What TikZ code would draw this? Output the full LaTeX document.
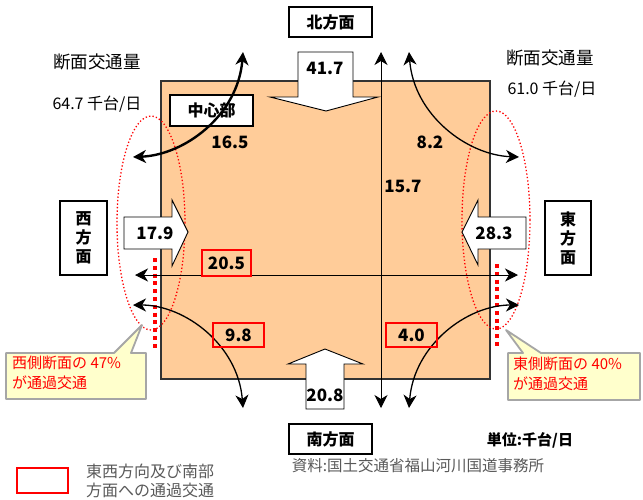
\documentclass[tikz,border=0pt]{standalone}
\usepackage{fontspec}
\setmainfont{Noto Sans CJK JP}
\usetikzlibrary{arrows.meta}
\definecolor{peach}{HTML}{FFCC99}
\definecolor{callfill}{HTML}{FFFFCC}
\definecolor{callline}{HTML}{A6A6A6}
\definecolor{txtgray}{HTML}{595959}
\begin{document}
\begin{tikzpicture}[x=1pt,y=-1pt,
  tip/.tip={Stealth[length=13pt,width=13pt,inset=4pt]},
  conn/.style={line width=1.3pt,tip-tip},
  dirbox/.style={draw=black,line width=1.2pt,fill=white,inner sep=0pt,
    font=\fontsize{16}{20}\selectfont\bfseries},
  num/.style={inner sep=0pt,font=\fontsize{17}{18}\selectfont\bfseries},
  redbox/.style={draw=red,line width=2.3pt,inner sep=0pt},
  blockarrow/.style={draw=black,line width=0.9pt,fill=white},
  calloutshape/.style={draw=callline,line width=1.8pt,fill=callfill,line join=round},
  calltext/.style={inner sep=0pt,anchor=west,align=left,text=red,
    font=\fontsize{15}{20}\selectfont},
  plain/.style={inner sep=0pt,font=\fontsize{16}{20}\selectfont},
  reddots/.style={draw=red,line width=3.8pt,dash pattern=on 4pt off 3.8pt},
  redellipse/.style={draw=red,line width=1.3pt,dash pattern=on 1.3pt off 2.2pt}
]
\useasboundingbox (0,0) rectangle (643,499);

% main area
\draw[fill=peach,draw=black!80,line width=1.5pt] (161,81) rectangle (490,379);

% dotted ellipses
\draw[redellipse] (151,223) ellipse [x radius=34pt,y radius=107pt];
\draw[redellipse] (496,220) ellipse [x radius=34pt,y radius=109pt];

% thick red dotted section lines
\draw[reddots] (155,258) -- (155,351);
\draw[reddots] (497,264) -- (497,348);

% coordinates of free ends
\coordinate (vN) at (381,52);
\coordinate (vS) at (381,408);
\coordinate (hW) at (135,275);
\coordinate (hE) at (518,275);
\coordinate (nwU) at (243,52);
\coordinate (nwL) at (133,157);
\coordinate (neU) at (409,52);
\coordinate (neR) at (519,157);
\coordinate (swD) at (243,408);
\coordinate (swL) at (133,305);
\coordinate (seD) at (409,408);
\coordinate (seR) at (519,305);

% through lines
\draw[conn,line width=1pt] (vN) -- (vS);
\draw[conn,line width=1pt] (hW) -- (hE);

% block arrows
\draw[blockarrow] (298,52) -- (353,52) -- (353,97) -- (378,97) -- (326,111) -- (270,97) -- (298,97) -- cycle;
\draw[blockarrow] (306,409) -- (344,409) -- (344,364) -- (363,364) -- (325,349) -- (288,364) -- (306,364) -- cycle;
\draw[blockarrow] (124,217) -- (172,217) -- (172,200) -- (188,232) -- (172,266) -- (172,249) -- (124,249) -- cycle;
\draw[blockarrow] (526,217) -- (478,217) -- (478,200) -- (462,232) -- (478,265) -- (478,249) -- (526,249) -- cycle;

% centre box
\node[dirbox,minimum width=83pt,minimum height=31pt] (ctr) at (211.5,110.5) {中心部};

% curved connectors
\draw[conn,line width=2.4pt] (nwL) .. controls (185,155) and (238,115) .. (nwU);
\draw[conn] (neR) .. controls (467,155) and (414,115) .. (neU);
\draw[conn] (swL) .. controls (185,305) and (238,345) .. (swD);
\draw[conn] (seR) .. controls (467,305) and (414,345) .. (seD);

% direction boxes
\node[dirbox,minimum width=83pt,minimum height=30pt] (north) at (330.5,22) {北方面};
\node[dirbox,minimum width=83pt,minimum height=30pt] (south) at (330.5,439) {南方面};
\node[dirbox,minimum width=47pt,minimum height=74pt,align=center] (west) at (83.5,238)
  {西\\[-1pt]方\\[-1pt]面};
\node[dirbox,minimum width=46pt,minimum height=74pt,align=center] (east) at (568,238)
  {東\\[-1pt]方\\[-1pt]面};

% numbers
\node[num] (n417) at (325,68) {41.7};
\node[num] (n208) at (325,395) {20.8};
\node[num] (n179) at (155,233) {17.9};
\node[num] (n283) at (494,233) {28.3};
\node[num] (n165) at (230,142) {16.5};
\node[num] (n82) at (430,142) {8.2};
\node[num] (n157) at (403,186) {15.7};

% red boxes
\draw[redbox] (202,250) rectangle (251,276);
\node[num] (n205) at (226.5,263) {20.5};
\draw[redbox] (213,323) rectangle (264,347);
\node[num] (n98) at (238.5,335) {9.8};
\draw[redbox] (386,323) rectangle (437,347);
\node[num] (n40) at (411.5,335) {4.0};

% section volume labels
\node[plain,font=\fontsize{17.5}{20}\selectfont] (lt1) at (97,62) {断面交通量};
\node[plain] (lt2) at (97,104) {64.7 千台/日};
\node[plain,font=\fontsize{17.5}{20}\selectfont] (rt1) at (550,58) {断面交通量};
\node[plain] (rt2) at (552,89) {61.0 千台/日};

% callouts
\draw[calloutshape] (6,353) -- (114,353) -- (142,325) -- (131,353) -- (146,353) -- (146,399) -- (6,399) -- cycle;
\node[calltext] (cw) at (12,373) {西側断面の 47\%\\が通過交通};
\draw[calloutshape] (508,353) -- (523,353) -- (506,330) -- (541,353) -- (640,353) -- (640,400) -- (508,400) -- cycle;
\node[calltext] (ce) at (513,374) {東側断面の 40\%\\が通過交通};

% unit and source
\node[plain,font=\fontsize{15}{18}\selectfont\bfseries] (unit) at (530,440) {単位:千台/日};
\node[plain,text=txtgray,font=\fontsize{15.5}{18}\selectfont] (src) at (418,466) {資料:国土交通省福山河川国道事務所};

% legend
\draw[draw=red,fill=white,line width=2.5pt] (17,468) rectangle (68,493);
\node[plain,text=txtgray,anchor=west,align=left,font=\fontsize{16}{19.5}\selectfont] (leg) at (86,481) {東西方向及び南部\\方面への通過交通};
\end{tikzpicture}
\end{document}
